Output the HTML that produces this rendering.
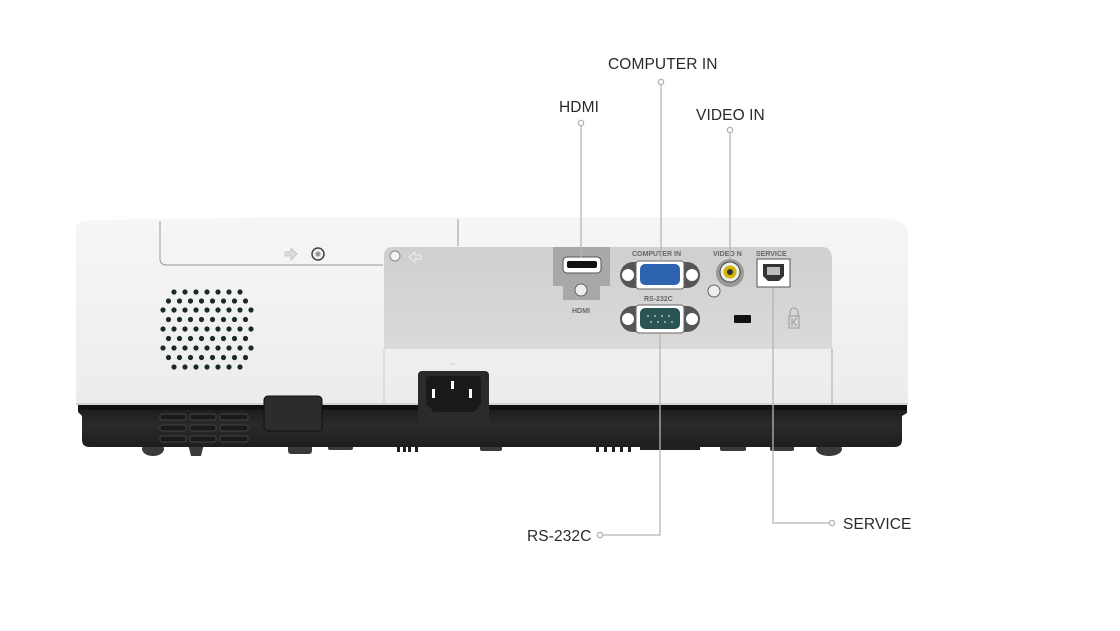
<!DOCTYPE html>
<html><head><meta charset="utf-8"><style>
html,body{margin:0;padding:0;background:#fff;}
svg{display:block;}
.lb{font-family:"Liberation Sans",sans-serif;font-size:15.5px;fill:#2a2a2a;letter-spacing:0.1px;}
.sm{font-family:"Liberation Sans",sans-serif;font-size:7px;font-weight:bold;fill:#666;}
</style></head><body>
<svg width="1120" height="631" viewBox="0 0 1120 631" xmlns="http://www.w3.org/2000/svg">
<defs>
<linearGradient id="body" x1="0" y1="0" x2="0" y2="1">
<stop offset="0" stop-color="#f6f6f6"/><stop offset="1" stop-color="#ececec"/></linearGradient>
<linearGradient id="panel" x1="0" y1="0" x2="0" y2="1">
<stop offset="0" stop-color="#cfcfcf"/><stop offset="1" stop-color="#dadada"/></linearGradient>
<linearGradient id="base" x1="0" y1="0" x2="0" y2="1">
<stop offset="0" stop-color="#1a1a1a"/><stop offset="0.5" stop-color="#2a2a2a"/><stop offset="1" stop-color="#1e1e1e"/></linearGradient>
<g id="r7"><circle cx="174" cy="0" r="2.6"/><circle cx="185" cy="0" r="2.6"/><circle cx="196" cy="0" r="2.6"/><circle cx="207" cy="0" r="2.6"/><circle cx="218" cy="0" r="2.6"/><circle cx="229" cy="0" r="2.6"/><circle cx="240" cy="0" r="2.6"/></g>
<g id="r8"><circle cx="168.5" cy="0" r="2.6"/><circle cx="179.5" cy="0" r="2.6"/><circle cx="190.5" cy="0" r="2.6"/><circle cx="201.5" cy="0" r="2.6"/><circle cx="212.5" cy="0" r="2.6"/><circle cx="223.5" cy="0" r="2.6"/><circle cx="234.5" cy="0" r="2.6"/><circle cx="245.5" cy="0" r="2.6"/></g>
<g id="r9"><circle cx="163" cy="0" r="2.6"/><circle cx="174" cy="0" r="2.6"/><circle cx="185" cy="0" r="2.6"/><circle cx="196" cy="0" r="2.6"/><circle cx="207" cy="0" r="2.6"/><circle cx="218" cy="0" r="2.6"/><circle cx="229" cy="0" r="2.6"/><circle cx="240" cy="0" r="2.6"/><circle cx="251" cy="0" r="2.6"/></g>
</defs>
<!-- feet -->
<g fill="#3a3a3a">
<ellipse cx="153" cy="449" rx="11" ry="7"/>
<path d="M188 444 h16 l-3 12 h-10z"/>
<rect x="288" y="442" width="24" height="12" rx="3"/>
<rect x="328" y="442" width="25" height="8" rx="2"/>
<rect x="480" y="442" width="22" height="9" rx="2"/>
<rect x="720" y="442" width="26" height="9" rx="2"/>
<rect x="770" y="442" width="24" height="9" rx="2"/>
<ellipse cx="829" cy="449" rx="13" ry="7"/>
</g>
<g fill="#222"><rect x="397" y="440" width="3" height="12"/><rect x="403" y="440" width="3" height="12"/><rect x="408" y="440" width="3" height="12"/><rect x="415" y="440" width="3" height="12"/>
<rect x="596" y="440" width="3" height="12"/><rect x="604" y="440" width="3" height="12"/><rect x="612" y="440" width="3" height="12"/><rect x="620" y="440" width="3" height="12"/><rect x="628" y="440" width="3" height="12"/><rect x="640" y="446" width="60" height="4"/></g>
<!-- black base -->
<path d="M78 404 H907 V413 L902 416 V440 Q902 447 894 447 H90 Q82 447 82 440 V416 L78 412 Z" fill="url(#base)"/>
<path d="M78 404 H907 V410 H78Z" fill="#111"/>
<!-- white body -->
<path d="M76 226 Q78 221 90 220 Q300 216 500 217 L880 218 Q906 219 908 230 V405 H76 Z" fill="url(#body)"/>
<line x1="76" y1="404" x2="908" y2="404" stroke="#bbb" stroke-width="1"/>
<!-- top cover -->
<path d="M160 221 V259 Q160 265 167 265 H383 M458 219 V246" fill="none" stroke="#999" stroke-width="1"/>
<path d="M285 252 h6 v-4 l6 6 l-6 6 v-4 h-6z" fill="#ddd" stroke="#bbb" stroke-width="0.7"/>
<circle cx="318" cy="254" r="6" fill="#eee" stroke="#444" stroke-width="1.5"/>
<circle cx="318" cy="254" r="2.5" fill="#999"/>
<!-- port panel -->
<path d="M384 256 Q384 247 393 247 H822 Q832 247 832 260 V349 H384 Z" fill="url(#panel)"/>
<line x1="384" y1="349" x2="384" y2="404" stroke="#ccc"/>
<line x1="832" y1="349" x2="832" y2="404" stroke="#aaa"/>
<circle cx="395" cy="256" r="5" fill="#f3f3f3" stroke="#888" stroke-width="1"/>
<path d="M409 257 l6 -5 v3 h6 v4 h-6 v3z" fill="none" stroke="#eee" stroke-width="1"/>
<!-- HDMI -->
<path d="M553 247 H610 V286 H600 V300 H563 V286 H553 Z" fill="#a8a8a8"/>
<rect x="563" y="257" width="38" height="16" rx="4" fill="#fff" stroke="#555"/>
<rect x="567" y="261" width="30" height="7" rx="2" fill="#111"/>
<circle cx="581" cy="290" r="6" fill="#eee" stroke="#666"/>
<text class="sm" x="572" y="313" fill="#888">HDMI</text>
<!-- COMPUTER IN -->
<text class="sm" x="632" y="256">COMPUTER IN</text>
<rect x="620" y="262" width="80" height="26" rx="13" fill="#555"/>
<circle cx="628" cy="275" r="6" fill="#fff"/><circle cx="692" cy="275" r="6" fill="#fff"/>
<rect x="636" y="261" width="48" height="28" rx="3" fill="#fff" stroke="#666"/>
<rect x="640" y="264" width="40" height="21" rx="5" fill="#2d62b0"/>
<text class="sm" x="644" y="301">RS-232C</text>
<rect x="620" y="306" width="80" height="26" rx="13" fill="#555"/>
<circle cx="628" cy="319" r="6" fill="#fff"/><circle cx="692" cy="319" r="6" fill="#fff"/>
<rect x="636" y="305" width="48" height="28" rx="3" fill="#fff" stroke="#666"/>
<rect x="640" y="308" width="40" height="21" rx="5" fill="#2a5454"/>
<g fill="#cde"><circle cx="648" cy="316" r="0.9"/><circle cx="655" cy="316" r="0.9"/><circle cx="662" cy="316" r="0.9"/><circle cx="669" cy="316" r="0.9"/><circle cx="651" cy="322" r="0.9"/><circle cx="658" cy="322" r="0.9"/><circle cx="665" cy="322" r="0.9"/><circle cx="672" cy="322" r="0.9"/></g>
<!-- VIDEO -->
<text class="sm" x="713" y="256">VIDEO  N</text>
<circle cx="730" cy="273" r="14" fill="#999"/>
<circle cx="730" cy="272" r="10" fill="#eee" stroke="#444"/>
<circle cx="730" cy="272" r="6.5" fill="#d4b400"/>
<circle cx="730" cy="272" r="3" fill="#333"/>
<circle cx="714" cy="291" r="6" fill="#eee" stroke="#666"/>
<!-- SERVICE -->
<text class="sm" x="756" y="256">SERVICE</text>
<rect x="757" y="259" width="33" height="28" fill="#fff" stroke="#555"/>
<path d="M763 264 H784 V276 L779 281 H768 L763 276 Z" fill="#333"/>
<rect x="767" y="267" width="13" height="8" fill="#bbb"/>
<rect x="734" y="315" width="17" height="8" rx="1" fill="#111"/>
<g fill="none" stroke="#999" stroke-width="1"><path d="M790 316 v-4 a4 4 0 0 1 8 0 v4"/><rect x="789" y="316" width="10" height="12"/><path d="M792 318 v8 M797 318 l-4 4 l4 4"/></g>
<!-- power inlet -->
<text x="450" y="367" font-family="Liberation Sans" font-size="9" fill="#bbb">~</text>
<rect x="418" y="371" width="71" height="56" rx="4" fill="#2b2b2b"/>
<path d="M426 380 Q426 376 431 376 H476 Q481 376 481 380 V404 L474 412 H434 L426 404 Z" fill="#1a1a1a"/>
<rect x="432" y="389" width="3" height="9" fill="#fff"/><rect x="451" y="381" width="3" height="8" fill="#fff"/><rect x="469" y="389" width="3" height="9" fill="#fff"/>
<!-- foot block + vents -->
<rect x="264" y="396" width="58" height="35" rx="4" fill="#2c2c2c" stroke="#111"/>
<g fill="#1a1a1a" stroke="#444" stroke-width="1">
<rect x="160" y="414" width="26" height="6" rx="2"/><rect x="190" y="414" width="26" height="6" rx="2"/><rect x="220" y="414" width="28" height="6" rx="2"/>
<rect x="160" y="425" width="26" height="6" rx="2"/><rect x="190" y="425" width="26" height="6" rx="2"/><rect x="220" y="425" width="28" height="6" rx="2"/>
<rect x="160" y="436" width="26" height="6" rx="2"/><rect x="190" y="436" width="26" height="6" rx="2"/><rect x="220" y="436" width="28" height="6" rx="2"/>
</g>
<!-- speaker -->
<g fill="#1d2a2a">
<use href="#r7" y="292"/>
<use href="#r8" y="301"/>
<use href="#r9" y="310"/>
<use href="#r8" y="319.5"/>
<use href="#r9" y="329"/>
<use href="#r8" y="338.5"/>
<use href="#r9" y="348"/>
<use href="#r8" y="357.5"/>
<use href="#r7" y="367"/>
</g>
<!-- callout lines -->
<g fill="none" stroke="#b5b5b5" stroke-width="1.3">
<line x1="661" y1="85" x2="661" y2="262"/>
<line x1="581" y1="126" x2="581" y2="258"/>
<line x1="730" y1="133" x2="730" y2="259"/>
<polyline points="660,334 660,535 603,535"/>
<polyline points="773,288 773,523 829,523"/>
<circle cx="661" cy="82" r="2.7" fill="#fff"/>
<circle cx="581" cy="123" r="2.7" fill="#fff"/>
<circle cx="730" cy="130" r="2.7" fill="#fff"/>
<circle cx="600" cy="535" r="2.7" fill="#fff"/>
<circle cx="832" cy="523" r="2.7" fill="#fff"/>
</g>
<text class="lb" x="608" y="69">COMPUTER IN</text>
<text class="lb" x="559" y="112">HDMI</text>
<text class="lb" x="696" y="120">VIDEO IN</text>
<text class="lb" x="527" y="541">RS-232C</text>
<text class="lb" x="843" y="529">SERVICE</text>
</svg>
</body></html>
